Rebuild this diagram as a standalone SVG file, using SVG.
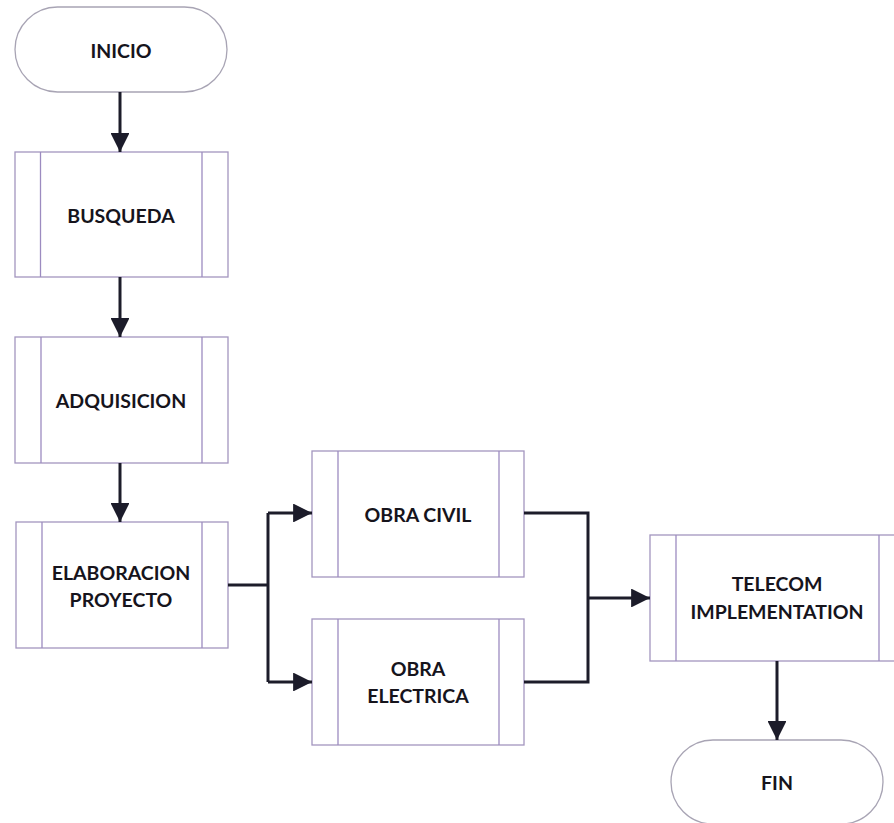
<svg xmlns="http://www.w3.org/2000/svg" width="894" height="823" viewBox="0 0 894 823">
<style>
.box{fill:#fff;stroke:#a396bf;stroke-width:1.3}
.inner{stroke:#9c8bc0;stroke-width:1.3}
.term{fill:#fff;stroke:#a8a4b4;stroke-width:1.3}
.lbl{font-family:Lato,"Liberation Sans",sans-serif;font-weight:700;font-size:19.5px;fill:#16141c;text-anchor:middle;dominant-baseline:central}
.con{fill:none;stroke:#1c1c2a;stroke-width:3}
</style>
<defs>
<marker id="ah" viewBox="0 0 10 10" refX="10" refY="5" markerWidth="6.3" markerHeight="6.3" markerUnits="strokeWidth" orient="auto">
<path d="M0,0 L10,5 L0,10 Z" fill="#1c1c2a"/>
</marker>
</defs>
<rect width="894" height="823" fill="#fff"/>
<g id="inicio">
<rect class="term" x="15" y="7" width="212" height="85" rx="42.5"/>
<text class="lbl" x="121" y="50">INICIO</text>
</g>
<g id="busqueda">
<rect class="box" x="15" y="152" width="213" height="125"/>
<line class="inner" x1="40.5" y1="152" x2="40.5" y2="277"/>
<line class="inner" x1="202" y1="152" x2="202" y2="277"/>
<text class="lbl" x="121" y="215">BUSQUEDA</text>
</g>
<g id="adquisicion">
<rect class="box" x="15" y="337" width="213" height="126"/>
<line class="inner" x1="41" y1="337" x2="41" y2="463"/>
<line class="inner" x1="202" y1="337" x2="202" y2="463"/>
<text class="lbl" x="121" y="400">ADQUISICION</text>
</g>
<g id="elaboracion">
<rect class="box" x="16" y="522" width="212" height="126"/>
<line class="inner" x1="42" y1="522" x2="42" y2="648"/>
<line class="inner" x1="202" y1="522" x2="202" y2="648"/>
<text class="lbl" x="121" y="572">ELABORACION</text>
<text class="lbl" x="121" y="599">PROYECTO</text>
</g>
<g id="obra-civil">
<rect class="box" x="312" y="451" width="212" height="126"/>
<line class="inner" x1="338" y1="451" x2="338" y2="577"/>
<line class="inner" x1="499" y1="451" x2="499" y2="577"/>
<text class="lbl" x="418" y="514">OBRA CIVIL</text>
</g>
<g id="obra-electrica">
<rect class="box" x="312" y="619" width="212" height="126"/>
<line class="inner" x1="338" y1="619" x2="338" y2="745"/>
<line class="inner" x1="499" y1="619" x2="499" y2="745"/>
<text class="lbl" x="418" y="668">OBRA</text>
<text class="lbl" x="418" y="695">ELECTRICA</text>
</g>
<g id="telecom">
<rect class="box" x="650" y="535" width="260" height="126"/>
<line class="inner" x1="676" y1="535" x2="676" y2="661"/>
<line class="inner" x1="879" y1="535" x2="879" y2="661"/>
<text class="lbl" x="777" y="583">TELECOM</text>
<text class="lbl" x="777" y="611">IMPLEMENTATION</text>
</g>
<g id="fin">
<rect class="term" x="671" y="740" width="212" height="84" rx="42"/>
<text class="lbl" x="777" y="782">FIN</text>
</g>
<g id="connectors">
<path class="con" d="M120,92 V152" marker-end="url(#ah)"/>
<path class="con" d="M120,277 V337" marker-end="url(#ah)"/>
<path class="con" d="M120,463 V522" marker-end="url(#ah)"/>
<path class="con" d="M228,585 H268"/>
<path class="con" d="M268,513 V682"/>
<path class="con" d="M268,513 H312" marker-end="url(#ah)"/>
<path class="con" d="M268,682 H312" marker-end="url(#ah)"/>
<path class="con" d="M524,513 H588 V682 H524"/>
<path class="con" d="M588,598 H650" marker-end="url(#ah)"/>
<path class="con" d="M777,661 V740" marker-end="url(#ah)"/>
</g>
</svg>
